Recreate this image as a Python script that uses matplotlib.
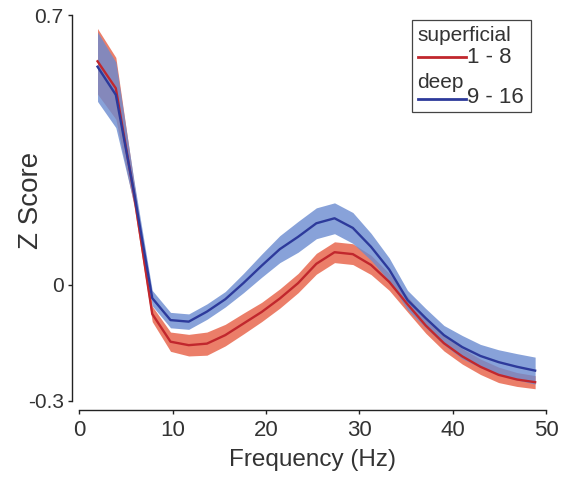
import numpy as np
import matplotlib
matplotlib.use("Agg")
import matplotlib.pyplot as plt

plt.rcParams['font.family'] = ['Liberation Sans', 'DejaVu Sans']

# frequency bins (Hz)
freqs = [1.95, 3.91, 5.86, 7.81, 9.77, 11.72, 13.67, 15.63, 17.58, 19.53,
         21.48, 23.44, 25.39, 27.34, 29.30, 31.25, 33.20, 35.16, 37.11, 39.06,
         41.02, 42.97, 44.92, 46.88, 48.83]

# superficial channels (1 - 8)
sup_mean = [0.58, 0.51, 0.235, -0.075, -0.147, -0.156, -0.152, -0.13, -0.10, -0.07,
            -0.035, 0.005, 0.055, 0.085, 0.08, 0.052, 0.008, -0.05, -0.105, -0.151,
            -0.185, -0.212, -0.233, -0.245, -0.252]
sup_err = [0.085, 0.08, 0.03, 0.02, 0.025, 0.028, 0.03, 0.028, 0.027, 0.025,
           0.025, 0.025, 0.027, 0.027, 0.027, 0.025, 0.022, 0.02, 0.02, 0.02,
           0.02, 0.02, 0.02, 0.018, 0.017]

# deep channels (9 - 16)
deep_mean = [0.566, 0.493, 0.24, -0.034, -0.091, -0.095, -0.069, -0.037, 0.005, 0.05,
             0.093, 0.125, 0.16, 0.173, 0.148, 0.099, 0.04, -0.039, -0.086, -0.13,
             -0.161, -0.184, -0.20, -0.212, -0.222]
deep_err = [0.09, 0.085, 0.03, 0.02, 0.02, 0.02, 0.02, 0.02, 0.025, 0.03,
            0.035, 0.04, 0.04, 0.04, 0.04, 0.035, 0.03, 0.025, 0.025, 0.025,
            0.03, 0.03, 0.032, 0.034, 0.035]

red_line, red_band = '#c1272d', '#e8684f'
blue_line, blue_band = '#2d3a9b', '#6a8bd0'
txt = '#333333'

fig = plt.figure(figsize=(5.63, 4.78), dpi=100)
ax = fig.add_axes([0.1409, 0.1617, 0.829, 0.8069])

x = np.array(freqs)
sm, se = np.array(sup_mean), np.array(sup_err)
dm, de = np.array(deep_mean), np.array(deep_err)

ax.fill_between(x, sm - se, sm + se, color=red_band, alpha=0.85, lw=0)
ax.fill_between(x, dm - de, dm + de, color=blue_band, alpha=0.8, lw=0)
ax.plot(x, sm, color=red_line, lw=1.7)
ax.plot(x, dm, color=blue_line, lw=1.7)

ax.set_xlim(0, 50)
ax.set_ylim(-0.3, 0.7)
ax.set_xticks([0, 10, 20, 30, 40, 50])
ax.set_yticks([-0.3, 0, 0.7])
ax.set_yticklabels(['-0.3', '0', '0.7'])

for s in ['top', 'right']:
    ax.spines[s].set_visible(False)
ax.spines['left'].set_position(('outward', 5.3))
ax.spines['bottom'].set_position(('outward', 6.7))
for s in ['left', 'bottom']:
    ax.spines[s].set_linewidth(1.0)
    ax.spines[s].set_color('#222222')
ax.tick_params(axis='both', direction='out', length=3, width=1.0, color='#222222')
ax.tick_params(axis='x', labelsize=16, labelcolor=txt, pad=4)
ax.tick_params(axis='y', labelsize=15, labelcolor=txt, pad=3)

ax.set_xlabel('Frequency (Hz)', fontsize=17.5, color=txt, labelpad=6)
ax.set_ylabel('Z Score', fontsize=20, color=txt)
ax.yaxis.set_label_coords(-0.075, 0.52)

# legend box drawn by hand
box = plt.Rectangle((0.712, 0.749), 0.255, 0.238, transform=ax.transAxes,
                    fill=False, ec='#444444', lw=0.9, clip_on=False)
ax.add_patch(box)
ax.text(0.7236, 0.9334, 'superficial', transform=ax.transAxes, fontsize=15,
        color=txt, va='baseline', ha='left')
ax.plot([0.7257, 0.8292], [0.8919, 0.8919], transform=ax.transAxes,
        color=red_line, lw=2, clip_on=False)
ax.text(0.8307, 0.8898, '1 - 8', transform=ax.transAxes, fontsize=16,
        color=txt, va='center', ha='left')
ax.text(0.7236, 0.810, 'deep', transform=ax.transAxes, fontsize=15,
        color=txt, va='baseline', ha='left')
ax.plot([0.7257, 0.8292], [0.7814, 0.7814], transform=ax.transAxes,
        color=blue_line, lw=2, clip_on=False)
ax.text(0.8307, 0.786, '9 - 16', transform=ax.transAxes, fontsize=16,
        color=txt, va='center', ha='left')

fig.savefig('out.png', dpi=100)
